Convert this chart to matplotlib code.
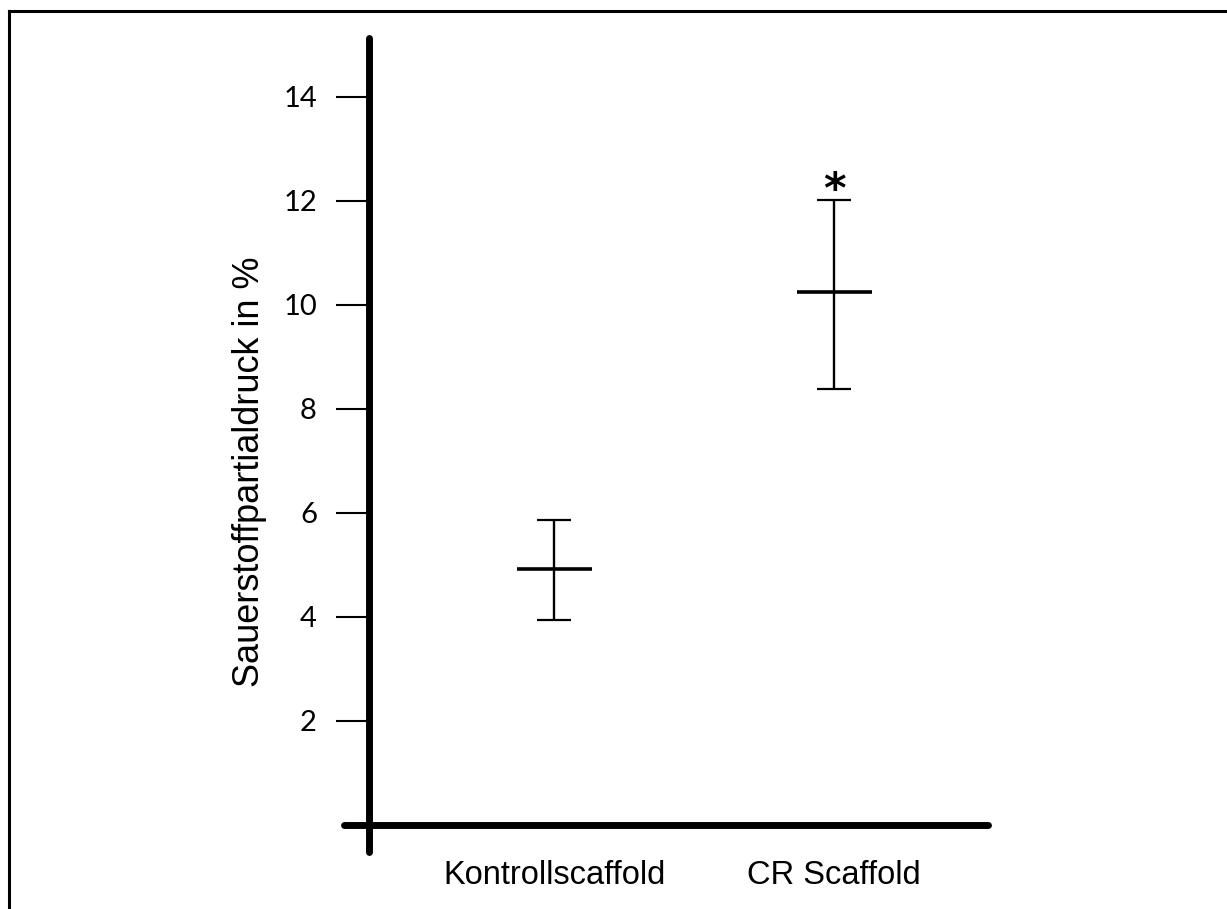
import matplotlib
matplotlib.use("Agg")
import matplotlib.pyplot as plt
from matplotlib.lines import Line2D

# data
groups = ['Kontrollscaffold', 'CR Scaffold']
means = [4.92, 10.25]
upper = [5.86, 12.02]
lower = [3.94, 8.38]
yticks = [2, 4, 6, 8, 10, 12, 14]

xpos = [1, 2]
err_low = [m - l for m, l in zip(means, lower)]
err_high = [u - m for m, u in zip(means, upper)]

fig = plt.figure(figsize=(12.27, 9.09), dpi=100)
ax = fig.add_axes([0.2804, 0.0627, 0.5249, 0.8955])

# error bars and mean markers
ax.errorbar(xpos, means, yerr=[err_low, err_high], fmt='none', ecolor='black',
            elinewidth=1.7, capsize=12, capthick=1.6)
ax.plot(xpos, means, linestyle='none', marker='_', markersize=54,
        markeredgewidth=2.6, color='black')

# significance star
ax.annotate('*', xy=(xpos[1], upper[1]), xytext=(0, -8.5), textcoords='offset points',
            ha='center', va='bottom', fontsize=31, fontweight='bold', family='DejaVu Sans')

ax.set_xlim(0.25, 2.55)
ax.set_ylim(-0.52, 15.13)

# thick axis lines crossing at origin
for s in ['top', 'right']:
    ax.spines[s].set_visible(False)
ax.spines['left'].set_position(('data', 0.339))
ax.spines['bottom'].set_position(('data', 0))
for s in ['left', 'bottom']:
    ax.spines[s].set_linewidth(5)
    ax.spines[s].set_capstyle('round')

ax.set_yticks(yticks)
ax.set_yticklabels([str(t) for t in yticks], family='Lato', fontsize=21)
ax.tick_params(axis='y', direction='out', length=24, width=1.5, pad=13.5)

ax.set_xticks(xpos)
ax.set_xticklabels(groups, family='Liberation Sans', fontsize=23.5)
ax.tick_params(axis='x', length=0, pad=25)

ax.set_ylabel('Sauerstoffpartialdruck in %', family='Liberation Sans', fontsize=26)
ax.yaxis.set_label_coords(-0.12, 0.467)

# frame lines at top and left of the figure
fig.add_artist(Line2D([0.0073, 0.0073], [0, 0.988], color='black', linewidth=2.2,
                      transform=fig.transFigure))
fig.add_artist(Line2D([0.0073, 1], [0.988, 0.988], color='black', linewidth=2.2,
                      transform=fig.transFigure))

fig.savefig('out.png', dpi=100)
